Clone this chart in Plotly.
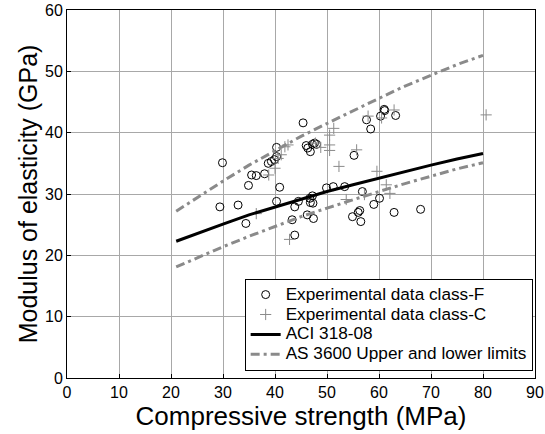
import plotly.graph_objects as go

# Class-F experimental data (circles)
f_x = [29.9, 29.4, 32.9, 34.4, 34.9, 35.5, 36.4, 38.0, 38.7, 39.3, 39.9, 40.3, 40.3,
       40.3, 40.9, 43.3, 43.8, 43.8, 44.5, 45.4, 46.2, 46.0, 46.3, 46.8, 47.2, 47.6,
       48.0, 46.7, 46.8, 47.3, 47.2, 47.4, 49.9, 51.2, 53.4, 55.2, 54.9, 56.0, 56.3,
       56.5, 56.8, 57.6, 58.4, 59.0, 60.1, 60.3, 61.0, 61.1, 63.2, 62.9, 68.0]
f_y = [35.1, 27.9, 28.2, 25.2, 31.4, 33.1, 33.0, 33.3, 35.0, 35.3, 35.6, 36.1, 37.6,
       28.8, 31.1, 25.8, 23.3, 27.9, 28.8, 41.6, 26.6, 37.9, 37.5, 36.9, 38.1, 38.3,
       38.1, 29.3, 28.6, 28.5, 29.7, 26.0, 31.0, 31.2, 31.2, 36.3, 26.3, 27.0, 27.3,
       25.5, 30.4, 42.1, 40.6, 28.3, 29.3, 42.7, 43.8, 43.6, 42.8, 27.0, 27.5]

# Class-C experimental data (plus signs)
c_x = [36.4, 38.8, 40.0, 40.6, 41.2, 41.9, 42.5, 42.8, 48.8, 47.8, 50.5, 51.3, 50.5,
       50.5, 52.3, 53.7, 55.7, 57.2, 57.9, 59.6, 60.5, 61.4, 62.1, 62.9, 80.6]
c_y = [26.8, 33.1, 34.2, 35.8, 36.4, 37.7, 38.0, 22.6, 37.6, 38.3, 39.6, 40.7, 38.0,
       37.1, 34.5, 29.1, 37.2, 29.9, 42.7, 33.7, 42.4, 31.5, 30.1, 43.7, 42.9]

# ACI 318-08 curve
aci_x = [21, 25, 30, 35, 40, 45, 50, 55, 60, 65, 70, 75, 80]
aci_y = [22.3, 23.6, 25.1, 26.6, 27.9, 29.2, 30.4, 31.5, 32.6, 33.7, 34.7, 35.7, 36.6]

# AS 3600 upper and lower limits
as_x = [21, 25, 30, 35, 40, 45, 50, 55, 60, 65, 70, 75, 80]
as_upper = [27.2, 29.4, 32.1, 34.7, 37.1, 39.4, 41.5, 43.6, 45.6, 47.6, 49.4, 51.1, 52.6]
as_lower = [18.1, 19.6, 21.4, 23.1, 24.7, 26.3, 27.7, 29.1, 30.4, 31.7, 32.9, 34.1, 35.1]

x_ticks = [0, 10, 20, 30, 40, 50, 60, 70, 80, 90]
y_ticks = [0, 10, 20, 30, 40, 50, 60]

legend_names = ["Experimental data class-F", "Experimental data class-C",
                "ACI 318-08", "AS 3600 Upper and lower limits"]

font_family = "Liberation Sans, Arial, sans-serif"
grey = "#8a8a8a"


def big(s):
    return "<span style='font-size:17.2px'>" + s + "</span>"


fig = go.Figure()

fig.add_trace(go.Scatter(
    x=f_x, y=f_y, mode="markers", name=big(legend_names[0]),
    marker=dict(symbol="circle-open", size=8, color="black", line=dict(width=1, color="black")),
))
fig.add_trace(go.Scatter(
    x=c_x, y=c_y, mode="markers", name=big(legend_names[1]),
    marker=dict(symbol="cross-thin-open", size=8, color=grey, line=dict(width=1, color=grey)),
))
fig.add_trace(go.Scatter(
    x=aci_x, y=aci_y, mode="lines", name=big(legend_names[2]),
    line=dict(color="black", width=3),
))
fig.add_trace(go.Scatter(
    x=as_x + [None] + as_x, y=as_upper + [None] + as_lower, mode="lines",
    name=big(legend_names[3]),
    line=dict(color=grey, width=3, dash="9px,4px,3px,4px"),
    connectgaps=False,
))

axis_common = dict(
    showgrid=True, gridcolor="#a8a8a8", gridwidth=1,
    showline=True, linecolor="black", linewidth=1, mirror=True,
    ticks="inside", ticklen=4, tickcolor="black",
    zeroline=False, automargin=False,
    tickfont=dict(family=font_family, size=16, color="black"),
)

fig.update_xaxes(
    range=[0, 90], tickvals=x_ticks, ticktext=[str(v) for v in x_ticks],
    title=dict(text="Compressive strength (MPa)", font=dict(family=font_family, size=26, color="black"), standoff=0),
    **axis_common,
)
fig.update_yaxes(
    range=[0, 60], tickvals=y_ticks, ticktext=[str(v) for v in y_ticks],
    title=dict(text="Modulus of elasticity (GPa)", font=dict(family=font_family, size=25, color="black"), standoff=0),
    **axis_common,
)

fig.update_layout(
    width=545, height=434,
    margin=dict(l=67, r=10, t=10, b=56),
    paper_bgcolor="white", plot_bgcolor="white",
    font=dict(family=font_family, color="black"),
    legend=dict(
        x=0.995, y=0.02, xanchor="right", yanchor="bottom",
        bgcolor="white", bordercolor="black", borderwidth=1,
        font=dict(family=font_family, size=13, color="black"),
        tracegroupgap=0, itemwidth=30,
    ),
    showlegend=True,
)

fig.write_html("out.html", config={"displayModeBar": False},
               post_script="document.body.style.margin='0';document.body.style.overflow='hidden';")
